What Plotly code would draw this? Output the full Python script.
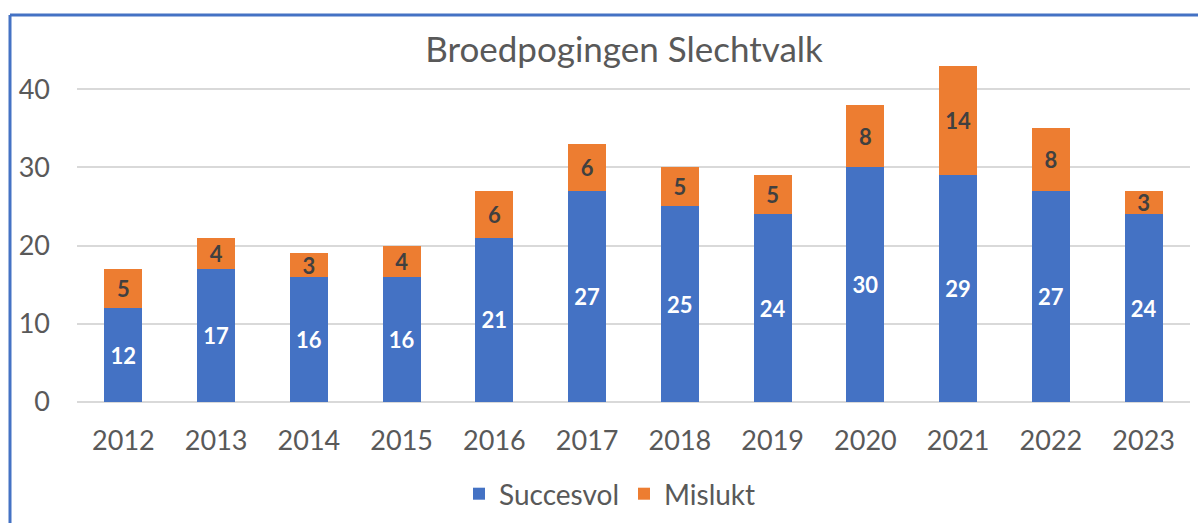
import plotly.graph_objects as go

years = ["2012", "2013", "2014", "2015", "2016", "2017", "2018", "2019", "2020", "2021", "2022", "2023"]
succesvol = [12, 17, 16, 16, 21, 27, 25, 24, 30, 29, 27, 24]
mislukt = [5, 4, 3, 4, 6, 6, 5, 5, 8, 14, 8, 3]
y_ticks = [0, 10, 20, 30, 40]

FONT = "Lato"
GREY = "#595959"

fig = go.Figure()
fig.add_trace(go.Bar(
    x=years, y=succesvol, name="Succesvol",
    marker=dict(color="#4472C4", line=dict(width=0)),
    text=succesvol, textposition="inside", insidetextanchor="middle",
    textangle=0, constraintext="none",
    textfont=dict(family=FONT, size=22, color="white", weight="bold"),
))
fig.add_trace(go.Bar(
    x=years, y=mislukt, name="Mislukt",
    marker=dict(color="#ED7D31", line=dict(width=0)),
    text=mislukt, textposition="inside", insidetextanchor="middle",
    textangle=0, constraintext="none",
    textfont=dict(family=FONT, size=22, color="#404040", weight="bold"),
))

L, R, T, B = 77, 8, 50, 121
W, H = 1198, 523
pw = W - L - R
ph = H - T - B

def px_to_paper_x(px):
    return (px - L) / pw

def px_to_paper_y(py):
    return (H - B - py) / ph

fig.update_layout(
    width=W, height=H,
    barmode="stack", bargap=0.59,
    margin=dict(l=L, r=R, t=T, b=B, autoexpand=False),
    paper_bgcolor="white", plot_bgcolor="white",
    font=dict(family=FONT, color=GREY),
    title=dict(text="Broedpogingen Slechtvalk", x=624 / W, xanchor="center",
               y=1 - 50 / H, yanchor="middle",
               font=dict(family=FONT, size=35, color=GREY)),
    xaxis=dict(showgrid=False, showline=False, ticks="", automargin=False,
               tickfont=dict(size=27, color=GREY), ticklabelstandoff=20),
    yaxis=dict(range=[0, 45], tickvals=y_ticks, showgrid=True, gridcolor="#D9D9D9",
               gridwidth=2, zeroline=True, zerolinecolor="#D9D9D9", zerolinewidth=2,
               automargin=False,
               tickfont=dict(size=27, color=GREY), ticklabelstandoff=26),
    legend=dict(orientation="h", x=px_to_paper_x(610), xanchor="center",
                y=px_to_paper_y(494), yanchor="middle",
                font=dict(size=28, color=GREY), traceorder="normal",
                itemwidth=30),
    showlegend=True,
)

# Blue frame (top and left edges visible)
fig.add_shape(type="line", xref="paper", yref="paper",
              x0=px_to_paper_x(10), x1=px_to_paper_x(1200),
              y0=px_to_paper_y(15), y1=px_to_paper_y(15),
              line=dict(color="#4472C4", width=3))
fig.add_shape(type="line", xref="paper", yref="paper",
              x0=px_to_paper_x(10), x1=px_to_paper_x(10),
              y0=px_to_paper_y(15), y1=px_to_paper_y(525),
              line=dict(color="#4472C4", width=3))

fig.write_html("out.html", config={"displayModeBar": False},
               post_script="document.body.style.margin='0';document.body.style.overflow='hidden';")
